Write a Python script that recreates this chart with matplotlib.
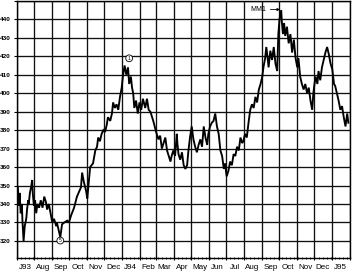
"""
Daily price chart, Jul 1993 - Jan 1995, with wave marks
"""

import matplotlib
matplotlib.use("Agg")
import matplotlib.pyplot as plt
import matplotlib.dates as mdates
import matplotlib.ticker as mticker
import matplotlib.transforms as mtransforms
import pandas as pd

# price readings (date, price)
dates = [
    "1993-07-03", "1993-07-05", "1993-07-06", "1993-07-08", "1993-07-10", "1993-07-11",
    "1993-07-13", "1993-07-15", "1993-07-17", "1993-07-18", "1993-07-19", "1993-07-21",
    "1993-07-22", "1993-07-24", "1993-07-26", "1993-07-28", "1993-07-29", "1993-07-31",
    "1993-08-02", "1993-08-04", "1993-08-06", "1993-08-09", "1993-08-12", "1993-08-15",
    "1993-08-18", "1993-08-21", "1993-08-23", "1993-08-26", "1993-08-29",
    "1993-09-01", "1993-09-04", "1993-09-08", "1993-09-09", "1993-09-12", "1993-09-15",
    "1993-09-18", "1993-09-22", "1993-09-27", "1993-09-30",
    "1993-10-04", "1993-10-09", "1993-10-14", "1993-10-21", "1993-10-23", "1993-10-26",
    "1993-10-30", "1993-11-01", "1993-11-04", "1993-11-06", "1993-11-11", "1993-11-15",
    "1993-11-18", "1993-11-20", "1993-11-23", "1993-11-26", "1993-11-29",
    "1993-12-02", "1993-12-05", "1993-12-07", "1993-12-11", "1993-12-14", "1993-12-16",
    "1993-12-19", "1993-12-22", "1993-12-25", "1993-12-28", "1993-12-31",
    "1994-01-02", "1994-01-05", "1994-01-08", "1994-01-11", "1994-01-13", "1994-01-16",
    "1994-01-18", "1994-01-20", "1994-01-22", "1994-01-25", "1994-01-28", "1994-01-31",
    "1994-02-03", "1994-02-06", "1994-02-10", "1994-02-13", "1994-02-16", "1994-02-19",
    "1994-02-22", "1994-02-24",
    "1994-03-01", "1994-03-05", "1994-03-08", "1994-03-11", "1994-03-14", "1994-03-17",
    "1994-03-20", "1994-03-23", "1994-03-26", "1994-03-28", "1994-03-31",
    "1994-04-03", "1994-04-06", "1994-04-07", "1994-04-09", "1994-04-12", "1994-04-15",
    "1994-04-18", "1994-04-21", "1994-04-24", "1994-04-26", "1994-04-29",
    "1994-05-02", "1994-05-05", "1994-05-08", "1994-05-11", "1994-05-14", "1994-05-17",
    "1994-05-20", "1994-05-23", "1994-05-26", "1994-05-29", "1994-05-31",
    "1994-06-03", "1994-06-06", "1994-06-09", "1994-06-12", "1994-06-15", "1994-06-18",
    "1994-06-21", "1994-06-24", "1994-06-27", "1994-06-29",
    "1994-07-02", "1994-07-05", "1994-07-08", "1994-07-11", "1994-07-14", "1994-07-17",
    "1994-07-20", "1994-07-23", "1994-07-26", "1994-07-29", "1994-07-31",
    "1994-08-03", "1994-08-06", "1994-08-09", "1994-08-12", "1994-08-15", "1994-08-18",
    "1994-08-21", "1994-08-24", "1994-08-27", "1994-08-30",
    "1994-09-02", "1994-09-04", "1994-09-07", "1994-09-09", "1994-09-11", "1994-09-13",
    "1994-09-16", "1994-09-19", "1994-09-22", "1994-09-25", "1994-09-28", "1994-09-29",
    "1994-09-30",
    "1994-10-02", "1994-10-05", "1994-10-06", "1994-10-08", "1994-10-10", "1994-10-12",
    "1994-10-15", "1994-10-18", "1994-10-21", "1994-10-24", "1994-10-27", "1994-10-30",
    "1994-11-02", "1994-11-04", "1994-11-07", "1994-11-10", "1994-11-13", "1994-11-16",
    "1994-11-19", "1994-11-22", "1994-11-25", "1994-11-28", "1994-11-30",
    "1994-12-02", "1994-12-04", "1994-12-07", "1994-12-09", "1994-12-12", "1994-12-15",
    "1994-12-18", "1994-12-21", "1994-12-24", "1994-12-27", "1994-12-30",
    "1995-01-02", "1995-01-05", "1995-01-07", "1995-01-10", "1995-01-13", "1995-01-16",
    "1995-01-19", "1995-01-22", "1995-01-25", "1995-01-28", "1995-01-30",
]
prices = [
    349, 339, 346, 335, 340, 331,
    320, 328, 331, 333, 337, 342,
    340, 346, 349, 353, 346, 339,
    342, 335, 340, 338, 342, 338,
    344, 341, 337, 340, 335,
    330, 332, 328, 330, 326, 322,
    329, 330, 331, 330,
    334, 338, 344, 349, 357, 352,
    347, 343, 353, 360, 362, 369,
    371, 376, 374, 378, 380,
    379, 383, 387, 385, 389, 395,
    392, 394, 391, 398, 403,
    409, 415, 410, 414, 405, 409,
    403, 400, 392, 396, 389, 395,
    391, 397, 392, 397, 391, 390,
    387, 385,
    379, 375, 377, 370, 373, 376,
    369, 366, 363, 366, 369,
    366, 378, 373, 367, 364, 368,
    361, 359, 361, 368, 376,
    382, 375, 371, 368, 372, 375,
    371, 382, 376, 372, 378,
    382, 384, 385, 389, 382, 378,
    369, 366, 359, 362,
    355, 358, 363, 361, 367, 366,
    371, 369, 376, 373, 374,
    378, 376, 384, 391, 394, 392,
    398, 395, 402, 405,
    409, 414, 419, 425, 420, 414,
    423, 418, 425, 416, 412, 422,
    432,
    440, 445, 439, 432, 438, 431,
    436, 427, 432, 422, 429, 419,
    414, 419, 409, 405, 402, 405,
    400, 403, 396, 391, 400,
    405, 409, 405, 412, 407, 414,
    418, 422, 425, 421, 416,
    413, 405, 404, 400, 396, 391,
    393, 387, 382, 389, 384,
]

month_labels = ["J93", "Aug", "Sep", "Oct", "Nov", "Dec", "J94", "Feb", "Mar",
                "Apr", "May", "Jun", "Jul", "Aug", "Sep", "Oct", "Nov", "Dec", "J95"]

# wave marks: (date, price, label)
marks = [("1993-09-15", 320.2, "5"), ("1994-01-13", 418.9, "1")]
mm1_date, mm1_price = "1994-10-03", 445.3

plt.rcParams["font.family"] = ["Liberation Sans", "DejaVu Sans"]

fig = plt.figure(figsize=(3.57, 2.78), dpi=100)
ax = fig.add_axes([16.7 / 357, 19.7 / 278, 332.8 / 357, 257.8 / 278])

x = pd.to_datetime(dates)
ax.plot(x, prices, color="black", lw=1.35, solid_joinstyle="miter")

start, end = pd.Timestamp("1993-07-01"), pd.Timestamp("1995-02-01")
ax.set_xlim(start, end)
ax.set_ylim(310.6, 450.2)

# grid: monthly verticals, every 10 horizontally
ax.xaxis.set_major_locator(mdates.MonthLocator())
ax.xaxis.set_major_formatter(mticker.NullFormatter())
ax.xaxis.set_minor_locator(mdates.WeekdayLocator(byweekday=mdates.FR))
ax.yaxis.set_major_locator(mticker.FixedLocator(list(range(320, 451, 10))))
ax.yaxis.set_major_formatter(
    mticker.FuncFormatter(lambda v, p: "" if v > 445 else f"{v:.0f}"))
ax.grid(True, which="major", color="#111111", lw=0.95)
ax.set_axisbelow(True)

ax.tick_params(axis="x", which="major", length=3, direction="inout", width=0.8)
ax.tick_params(axis="x", which="minor", length=2, direction="inout", width=0.6)
ax.tick_params(axis="y", length=2, width=0.8, pad=2.5, labelsize=4.6)
for lab in ax.get_yticklabels():
    lab.set_fontweight("bold")
for s in ax.spines.values():
    s.set_linewidth(1.0)

# month names centred in each month
trans = mtransforms.blended_transform_factory(ax.transData, ax.transAxes)
mids = pd.date_range(start, periods=len(month_labels), freq="MS") + pd.Timedelta(days=15)
for m, lab in zip(mids, month_labels):
    ax.text(m, -0.037, lab, transform=trans, ha="center", va="center",
            fontsize=5.8, clip_on=False)

for d, v, lab in marks:
    ax.text(pd.Timestamp(d), v, lab, ha="center", va="center", fontsize=3.6,
            bbox=dict(boxstyle="circle,pad=0.18", fc="white", ec="black", lw=0.6))

ax.annotate("MM1", xy=(pd.Timestamp(mm1_date), mm1_price),
            xytext=(pd.Timestamp("1994-09-09"), mm1_price),
            ha="right", va="center", fontsize=5,
            arrowprops=dict(arrowstyle="-|>", lw=0.6, color="black",
                            mutation_scale=4, shrinkA=1, shrinkB=0))

fig.savefig("out.png", dpi=100)
